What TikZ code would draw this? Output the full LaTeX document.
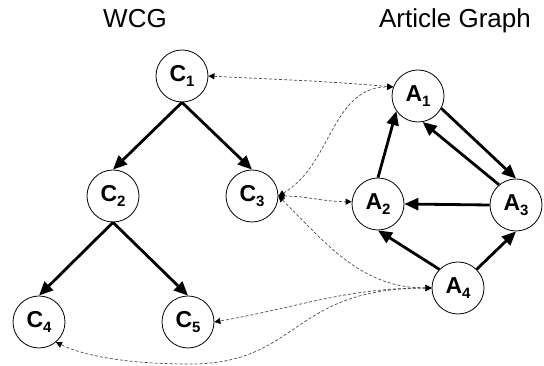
\documentclass[tikz,border=0pt]{standalone}
\usepackage{fontspec}
\setmainfont{Liberation Sans}
\usetikzlibrary{arrows.meta}
\newcommand{\idx}[1]{\raisebox{-5pt}{\fontsize{15}{15}\selectfont #1}}

\begin{document}
\begin{tikzpicture}[x=1pt,y=1pt,
	vertex/.style={circle, draw=black, line width=0.8pt, minimum size=52pt, inner sep=0pt,
		font=\fontsize{23}{26}\selectfont\bfseries},
	edge/.style={line width=2.8pt, -{Triangle[length=14pt,width=12pt]}},
	link/.style={draw=black!70, line width=0.7pt, dash pattern=on 3pt off 2pt,
		{Triangle[length=6pt,width=6pt,color=black]}-{Triangle[length=6pt,width=6pt,color=black]}},
	title/.style={font=\fontsize{26}{30}\selectfont, anchor=base}]
	\useasboundingbox (0,0) rectangle (544,366);
	
	% titles
	\node[title] (wcg) at (135,338) {WCG};
	\node[title] (art) at (455,338) {Article Graph};
	
	% category tree
	\node[vertex] (c1) at (182,290) {C\idx{1}};
	\node[vertex] (c2) at (113,170) {C\idx{2}};
	\node[vertex] (c3) at (252,170) {C\idx{3}};
	\node[vertex] (c4) at (39,44) {C\idx{4}};
	\node[vertex] (c5) at (188,44) {C\idx{5}};
	
	\draw[edge] (c1.south) -- (c2.north);
	\draw[edge] (c1.south) -- (c3.north);
	\draw[edge] (c2.south) -- (c4.north);
	\draw[edge] (c2.south) -- (c5.north);
	
	% article graph
	\node[vertex] (a1) at (418,270) {A\idx{1}};
	\node[vertex] (a2) at (378,162) {A\idx{2}};
	\node[vertex] (a3) at (516,161) {A\idx{3}};
	\node[vertex] (a4) at (458,78) {A\idx{4}};
	
	\draw[edge] (a2.north) -- (a1.215);
	\draw[edge] (a1.-28) -- (a3.north);
	\draw[edge] (a3.130) -- (a1.-80);
	\draw[edge] (a3.west) -- (a2.east);
	\draw[edge] (a4.135) -- (a2.south);
	\draw[edge] (a4.45) -- (a3.south);
	
	% mappings
	\draw[link] (c1.east) to[out=-3,in=175] (a1.160);
	\draw[link] (c3.east) to[out=30,in=180] (a1.160);
	\draw[link] (c3.east) to[out=0,in=180] (a2.175);
	\draw[link] (c3.east) to[out=-45,in=180] (a4.west);
	\draw[link] (a4.west) to[out=180,in=10] (c5.east);
	\draw[link] (a4.west) .. controls (290,78) and (300,2) .. (190,2)
		.. controls (120,2) and (80,12) .. (c4.-50);
\end{tikzpicture}
\end{document}
